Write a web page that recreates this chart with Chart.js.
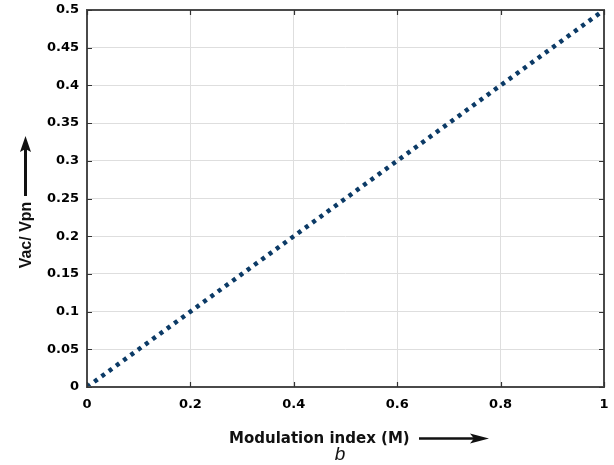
<!DOCTYPE html>
<html>
<head>
<meta charset="utf-8">
<script src="https://cdn.jsdelivr.net/npm/chart.js@4.4.0/dist/chart.umd.min.js"></script>
<style>
html,body{margin:0;padding:0;background:#fff;}
canvas{display:block;}
</style>
</head>
<body>
<canvas id="c" width="614" height="465"></canvas>
<script>
// Data
const modulationIndex = [0, 0.1, 0.2, 0.3, 0.4, 0.5, 0.6, 0.7, 0.8, 0.9, 1.0];
const vacOverVpn      = [0, 0.05, 0.1, 0.15, 0.2, 0.25, 0.3, 0.35, 0.4, 0.45, 0.5];
const xTickValues = [0, 0.2, 0.4, 0.6, 0.8, 1];
const xTickLabels = ['0', '0.2', '0.4', '0.6', '0.8', '1'];
const yTickValues = [0, 0.05, 0.1, 0.15, 0.2, 0.25, 0.3, 0.35, 0.4, 0.45, 0.5];
const yTickLabels = ['0', '0.05', '0.1', '0.15', '0.2', '0.25', '0.3', '0.35', '0.4', '0.45', '0.5'];
const xTitle = 'Modulation index (M)';
const yTitle = 'Vac/ Vpn';
const caption = 'b';

function labelFor(values, labels, v) {
  for (let i = 0; i < values.length; i++) if (Math.abs(values[i] - v) < 1e-9) return labels[i];
  return '';
}

const points = modulationIndex.map((m, i) => ({x: m, y: vacOverVpn[i]}));

const frame = {
  id: 'frame',
  afterDraw(chart) {
    const ctx = chart.ctx;
    const a = chart.chartArea;
    const xs = chart.scales.x, ys = chart.scales.y;
    ctx.save();
    // box
    ctx.strokeStyle = '#4a4a4a';
    ctx.lineWidth = 2;
    ctx.strokeRect(a.left, a.top, a.right - a.left, a.bottom - a.top);
    // inward ticks
    ctx.lineWidth = 1.2;
    ctx.strokeStyle = '#333';
    const tl = 5;
    ctx.beginPath();
    xTickValues.forEach(v => {
      const px = Math.round(xs.getPixelForValue(v)) + 0.5;
      ctx.moveTo(px, a.bottom); ctx.lineTo(px, a.bottom - tl);
      ctx.moveTo(px, a.top); ctx.lineTo(px, a.top + tl);
    });
    yTickValues.forEach(v => {
      const py = Math.round(ys.getPixelForValue(v)) + 0.5;
      ctx.moveTo(a.left, py); ctx.lineTo(a.left + tl, py);
      ctx.moveTo(a.right, py); ctx.lineTo(a.right - tl, py);
    });
    ctx.stroke();

    // x title + arrow
    ctx.fillStyle = '#111';
    ctx.strokeStyle = '#111';
    ctx.font = 'bold 15px "DejaVu Sans"';
    ctx.textBaseline = 'alphabetic';
    ctx.textAlign = 'left';
    ctx.fillText(xTitle, 229, 443);
    ctx.lineWidth = 2.5;
    ctx.beginPath();
    ctx.moveTo(419, 438.5); ctx.lineTo(476, 438.5);
    ctx.stroke();
    ctx.beginPath();
    ctx.moveTo(489, 438.5); ctx.lineTo(470, 433.5); ctx.lineTo(474, 438.5); ctx.lineTo(470, 443.5); ctx.closePath();
    ctx.fill();

    // y title + arrow
    ctx.save();
    ctx.translate(31, 235);
    ctx.rotate(-Math.PI / 2);
    ctx.font = 'bold 16px "Liberation Sans"';
    ctx.textAlign = 'center';
    ctx.fillText(yTitle, 0, 0);
    ctx.restore();
    ctx.lineWidth = 3;
    ctx.beginPath();
    ctx.moveTo(25.5, 196); ctx.lineTo(25.5, 148);
    ctx.stroke();
    ctx.beginPath();
    ctx.moveTo(25.5, 136); ctx.lineTo(20, 152); ctx.lineTo(25.5, 149); ctx.lineTo(31, 152); ctx.closePath();
    ctx.fill();

    // caption
    ctx.font = 'italic 19px "Liberation Sans"';
    ctx.textAlign = 'center';
    ctx.fillText(caption, 340, 460);
    ctx.restore();
  }
};

new Chart(document.getElementById('c'), {
  type: 'scatter',
  data: {
    datasets: [{
      data: points,
      showLine: true,
      borderColor: '#0b3a66',
      borderWidth: 4.5,
      borderDash: [4, 5],
      borderCapStyle: 'butt',
      pointRadius: 0,
      fill: false,
      tension: 0
    }]
  },
  options: {
    responsive: false,
    animation: false,
    events: [],
    layout: {padding: {top: 10, right: 10, left: 0, bottom: 0}},
    plugins: {legend: {display: false}, tooltip: {enabled: false}},
    scales: {
      x: {
        type: 'linear', min: 0, max: 1,
        afterBuildTicks(s) { s.ticks = xTickValues.map(v => ({value: v})); },
        afterFit(s) { s.height = 78; s.paddingLeft = 0; s.paddingRight = 0; },
        grid: {color: '#dedede', lineWidth: 1, drawTicks: false},
        border: {display: false},
        ticks: {
          padding: 10, color: '#000',
          font: {family: '"DejaVu Sans"', weight: 'bold', size: 13},
          callback: v => labelFor(xTickValues, xTickLabels, v)
        }
      },
      y: {
        type: 'linear', min: 0, max: 0.5,
        afterBuildTicks(s) { s.ticks = yTickValues.map(v => ({value: v})); },
        afterFit(s) { s.width = 87; s.paddingTop = 0; s.paddingBottom = 0; },
        grid: {color: '#dedede', lineWidth: 1, drawTicks: false},
        border: {display: false},
        ticks: {
          padding: 8, color: '#000',
          font: {family: '"DejaVu Sans"', weight: 'bold', size: 13},
          callback: v => labelFor(yTickValues, yTickLabels, v)
        }
      }
    }
  },
  plugins: [frame]
});
</script>
</body>
</html>
